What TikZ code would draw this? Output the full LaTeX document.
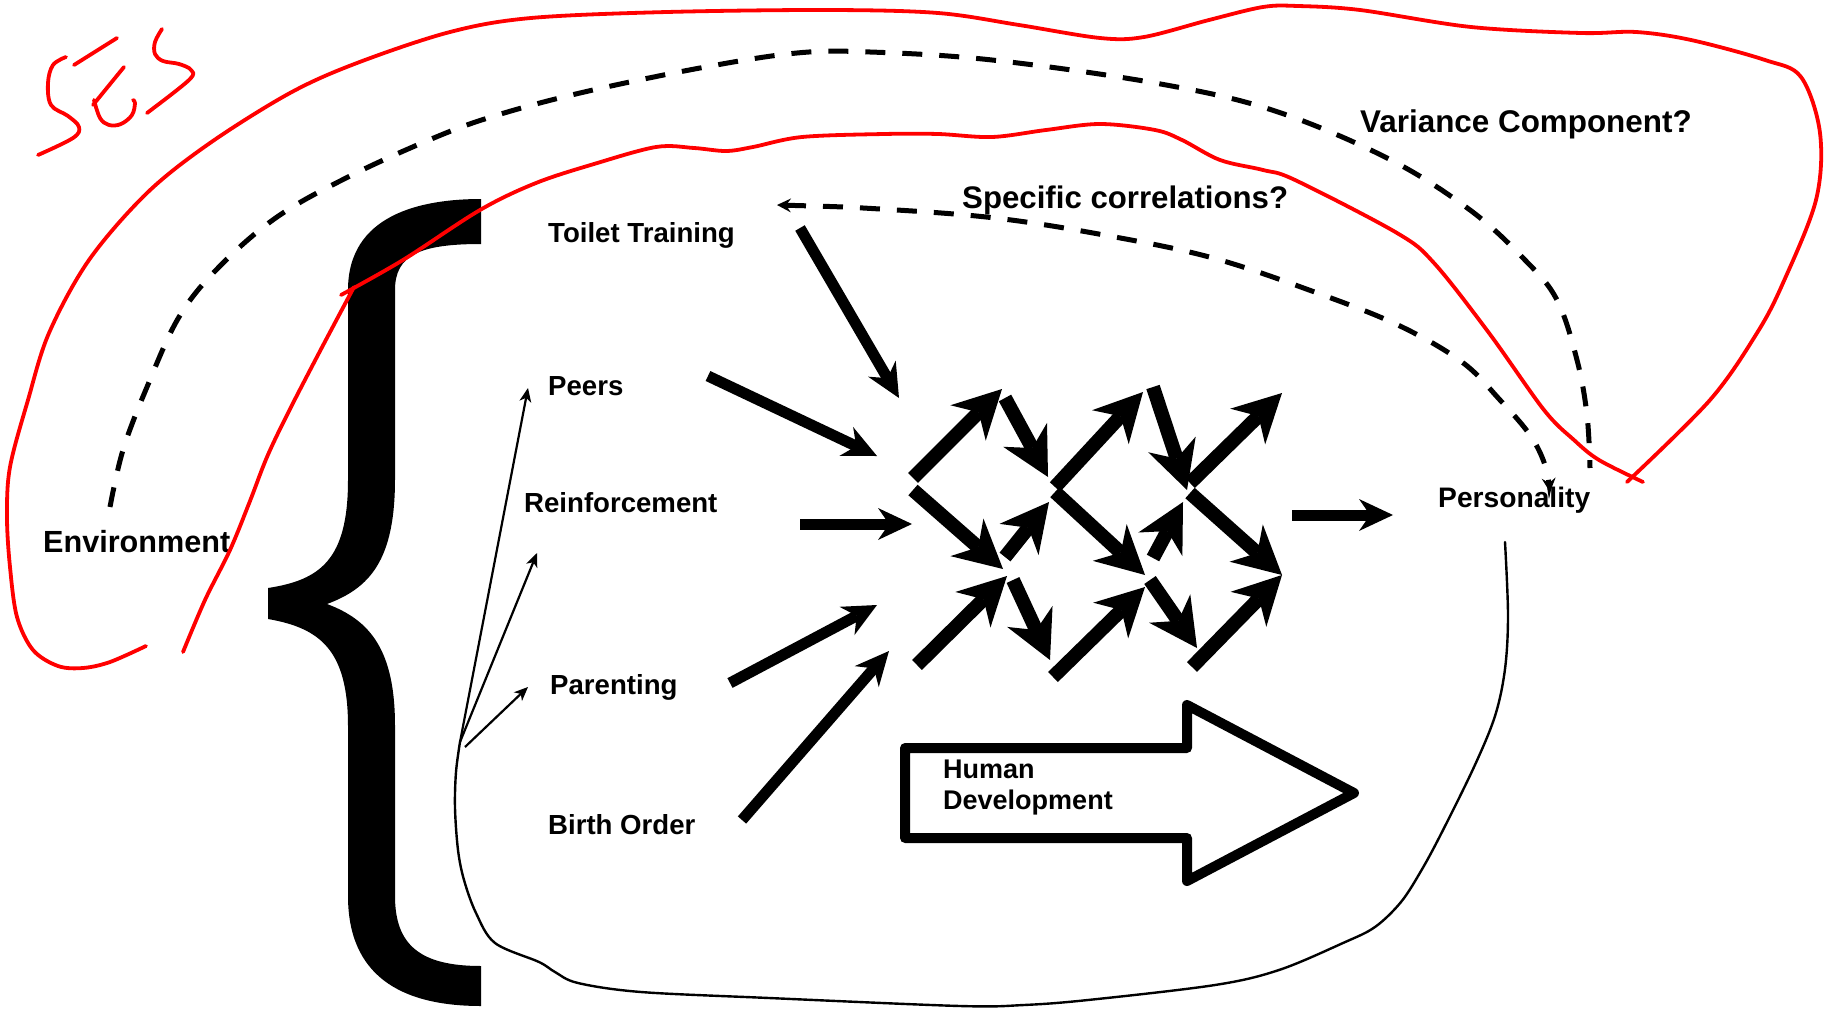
\documentclass[tikz,border=0pt]{standalone}
\usepackage{fontspec}
\setmainfont{Liberation Sans}
\usetikzlibrary{arrows.meta}
\newcommand\labsize[1]{\bfseries\fontsize{#1}{#1}\selectfont}

\begin{document}
\begin{tikzpicture}[x=1pt,y=-1pt,
  redink/.style={draw=red, line width=3.8pt, line cap=round, line join=round},
  lab/.style={inner sep=0pt, anchor=base west},
  feed/.style={line width=11pt, -{Stealth[length=34pt,width=32pt,inset=11pt,line width=0pt]}},
  lattice/.style={line width=14pt, -{Stealth[length=48pt,width=50pt,inset=15pt,line width=0pt]}},
  fanarrow/.style={line width=2.2pt, -{Stealth[length=14pt,width=12pt,inset=4pt,line width=0pt]}},
  dashpath/.style={line width=5pt, dash pattern=on 20pt off 17pt},
  smalltip/.style={{Stealth[length=14pt,width=14pt,inset=5pt,line width=0pt]}-{Stealth[length=14pt,width=14pt,inset=5pt,line width=0pt]}},
  outline/.style={line width=2.4pt, line join=round, line cap=round}
]
\useasboundingbox (0,0) rectangle (1826,1009);

% ---------- the big curly brace ----------
\fill (481,199) .. controls (420,199) and (348,215) .. (348,290)
  -- (348,480) .. controls (348,560) and (320,580) .. (268,588)
  -- (268,619) .. controls (320,628) and (348,650) .. (348,726)
  -- (348,896) .. controls (348,975) and (400,1006) .. (481,1006)
  -- (481,966) .. controls (420,966) and (395,945) .. (395,896)
  -- (395,726) .. controls (395,650) and (370,620) .. (327,604)
  .. controls (370,588) and (395,560) .. (395,479)
  -- (395,290) .. controls (395,255) and (420,244) .. (481,244) -- cycle;

% ---------- labels ----------
\node[lab, font=\labsize{27.6}] (tt)    at (548,242) {Toilet Training};
\node[lab, font=\labsize{27.6}] (peers) at (548,395) {Peers};
\node[lab, font=\labsize{27.6}] (reinf) at (524,512) {Reinforcement};
\node[lab, font=\labsize{27.6}] (par)   at (550,694) {Parenting};
\node[lab, font=\labsize{27.6}] (bo)    at (548,834) {Birth Order};
\node[lab, font=\labsize{30.6}] (env)   at (43,552)  {Environment};
\node[lab, font=\labsize{28.2}] (pers)  at (1438,507) {Personality};
\node[lab, font=\labsize{31.4}] (varc)  at (1360,132) {Variance Component?};
\node[lab, font=\labsize{31.2}] (spec)  at (962,208) {Specific correlations?};

% ---------- thin fan of arrows and the enclosing outline ----------
\coordinate (fan) at (460,742);
\coordinate (fanB) at (465,747);
\coordinate (fan1) at (528,388);
\coordinate (fan2) at (537,553);
\coordinate (fan3) at (528,687);
\draw[fanarrow] (fan) -- (fan1);
\draw[fanarrow] (fan) -- (fan2);
\draw[fanarrow] (fanB) -- (fan3);
\coordinate (olEnd) at (1505,542);
\draw[outline] plot[smooth, tension=0.55] coordinates {(fan) (456,772) (455,808) (458,850) (464,880) (476,913) (495,943) (539,962) (555,972) (578,983) (641,992) (769,998) (960,1006) (1024,1005) (1088,1000) (1215,985) (1279,970) (1343,943) (1375,927) (1401,902) (1421,871) (1441,834) (1474,767) (1495,716) (1505,669) (1508,615) (olEnd)};

% ---------- influences feeding the lattice ----------
\coordinate (ttS) at (800,228);  \coordinate (ttT) at (899,398);
\coordinate (peS) at (708,376);  \coordinate (peT) at (877,456);
\coordinate (reS) at (800,524);  \coordinate (reT) at (912,524);
\coordinate (paS) at (730,683);  \coordinate (paT) at (877,605);
\coordinate (boS) at (742,820);  \coordinate (boT) at (889,651);
\draw[feed] (ttS) -- (ttT);
\draw[feed] (peS) -- (peT);
\draw[feed] (reS) -- (reT);
\draw[feed] (paS) -- (paT);
\draw[feed] (boS) -- (boT);

% ---------- developmental lattice ----------
\coordinate (a1) at (913,478);   \coordinate (b1) at (1002,389);
\coordinate (a2) at (913,490);   \coordinate (b2) at (1003,569);
\coordinate (a3) at (1005,398);  \coordinate (b3) at (1048,477);
\coordinate (a4) at (1055,487);  \coordinate (b4) at (1143,392);
\coordinate (a5) at (1055,492);  \coordinate (b5) at (1145,575);
\coordinate (a6) at (1153,387);  \coordinate (b6) at (1187,490);
\coordinate (a7) at (1190,483);  \coordinate (b7) at (1282,393);
\coordinate (a8) at (1190,493);  \coordinate (b8) at (1282,575);
\coordinate (a9) at (917,665);   \coordinate (b9) at (1007,576);
\coordinate (a10) at (1005,557); \coordinate (b10) at (1049,502);
\coordinate (a11) at (1013,580); \coordinate (b11) at (1050,660);
\coordinate (a12) at (1053,677); \coordinate (b12) at (1145,587);
\coordinate (a13) at (1153,558); \coordinate (b13) at (1183,502);
\coordinate (a14) at (1150,580); \coordinate (b14) at (1197,648);
\coordinate (a15) at (1192,667); \coordinate (b15) at (1282,575);
\foreach \i in {1,...,15} {\draw[lattice] (a\i) -- (b\i);}

% ---------- lattice to personality ----------
\coordinate (pIn) at (1292,515);
\coordinate (pOut) at (1393,515);
\draw[feed] (pIn) -- (pOut);

% ---------- block arrow ----------
\draw[line width=10pt, line join=round] (905,748) -- (1187,748) -- (1187,705) -- (1354,793)
  -- (1187,881) -- (1187,838) -- (905,838) -- cycle;
\node[lab, font=\labsize{27}] (hum) at (943,778) {Human};
\node[lab, font=\labsize{27}] (dev) at (943,809) {Development};

% ---------- dashed paths ----------
\draw[dashpath] plot[smooth, tension=0.6] coordinates {(110,507) (123,450) (147,387) (179,317) (219,267) (277,217) (348,177) (429,140) (491,117) (580,93) (700,68) (797,53) (870,52) (992,60) (1155,83) (1272,110) (1387,158) (1470,210) (1525,260) (1557,300) (1577,360) (1587,415) (1590,468)};
\draw[dashpath, smalltip] plot[smooth, tension=0.6] coordinates {(777,205) (880,209) (995,218) (1104,235) (1213,258) (1320,294) (1400,326) (1462,362) (1500,400) (1530,435) (1545,465) (1550,492)};

% ---------- red annotations ----------
\draw[redink] plot[smooth, tension=0.55] coordinates {(146,646) (110,662) (83,668) (58,666) (33,650) (17,617) (10,567) (7,517) (10,467) (28,400) (49,333) (89,260) (147,193) (210,143) (290,93) (357,63) (450,32) (531,18) (667,12) (829,10) (938,13) (1019,25) (1100,38) (1144,37) (1209,20) (1263,7) (1298,6) (1360,10) (1471,27) (1581,33) (1636,32) (1691,40) (1765,60) (1801,77) (1820,133) (1816,200) (1783,283) (1757,333) (1710,400) (1627,482)};
\draw[redink] plot[smooth, tension=0.55] coordinates {(183,652) (205,600) (230,550) (250,501) (267,457) (288,413) (319,353) (354,287)};
\draw[redink] plot[smooth, tension=0.55] coordinates {(341,295) (403,260) (480,210) (536,183) (594,164) (656,147) (694,148) (726,151) (753,147) (802,137) (884,134) (938,134) (992,137) (1046,130) (1100,124) (1155,130) (1182,140) (1220,160) (1263,170) (1295,180) (1397,233) (1434,263) (1489,333) (1544,410) (1574,440) (1599,460) (1643,482)};
% SES
\draw[redink] plot[smooth, tension=0.6] coordinates {(66,57) (53,65) (48,83) (51,105) (68,116) (79,127) (73,138) (38,155)};
\draw[redink] (74,65) -- (117,38);
\draw[redink] (124,67) -- (93,105);
\draw[redink] plot[smooth, tension=0.6] coordinates {(94,100) (100,118) (109,125) (121,124) (132,115) (135,103) (133,100)};
\draw[redink] plot[smooth, tension=0.6] coordinates {(162,29) (155,42) (155,54) (163,61) (179,64) (191,70) (189,80) (147,113)};
\end{tikzpicture}
\end{document}
